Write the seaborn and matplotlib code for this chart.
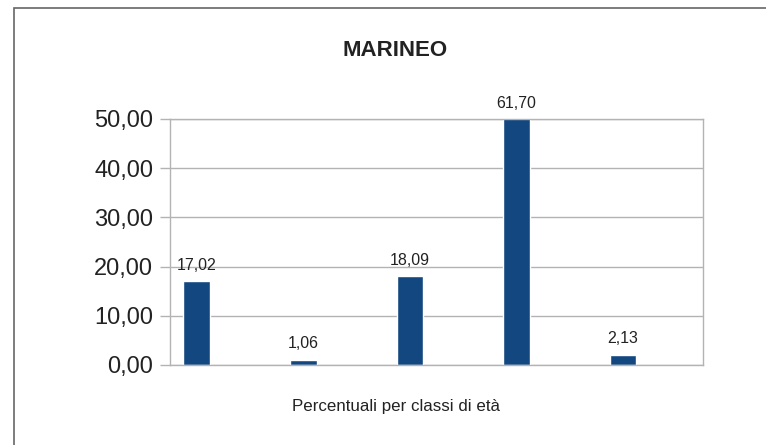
import matplotlib
matplotlib.use('agg')
import matplotlib.pyplot as plt
from matplotlib.patches import Rectangle
import seaborn as sns
import pandas as pd

# data
categorie = ['A', 'B', 'C', 'D', 'E']
percentuali = [17.02, 1.06, 18.09, 61.70, 2.13]
y_ticks = [0, 10, 20, 30, 40, 50]

sns.set_theme(style='white')
plt.rcParams['font.family'] = ['Liberation Sans', 'DejaVu Sans']

df = pd.DataFrame({'classe': categorie, 'perc': percentuali})

fig = plt.figure(figsize=(7.66, 4.45), dpi=100)
ax = fig.add_axes([170 / 766, 1 - 365 / 445, (703 - 170) / 766, (365 - 119) / 445])

sns.barplot(data=df, x='classe', y='perc', color='#13477f', width=0.25,
            saturation=1, ax=ax)
ax.set_xlim(-0.25, len(categorie) - 0.25)
ax.set_ylim(0, 50)
ax.set_yticks(y_ticks)
ax.set_yticklabels([f'{t:.2f}'.replace('.', ',') for t in y_ticks],
                   fontsize=17, color='#222222')
ax.tick_params(axis='y', length=7, width=1, color='#b3b3b3', pad=5, left=True)
ax.tick_params(axis='x', length=0, labelbottom=False)
ax.set_xlabel('')
ax.set_ylabel('')
ax.yaxis.grid(True, color='#b3b3b3', linewidth=1)
ax.set_axisbelow(True)
for s in ax.spines.values():
    s.set_color('#b3b3b3')
    s.set_linewidth(1)

for i, v in enumerate(percentuali):
    ax.annotate(f'{v:.2f}'.replace('.', ','), (i, min(v, 50)),
                xytext=(0, 6), textcoords='offset points', ha='center',
                va='bottom', fontsize=11.5, color='#222222', annotation_clip=False)

fig.text(395.5 / 766, 1 - 50 / 445, 'MARINEO', ha='center', va='center',
         fontsize=16, fontweight='bold', color='#222222')
fig.text(396.5 / 766, 1 - 407 / 445, 'Percentuali per classi di età',
         ha='center', va='center', fontsize=12.2, color='#222222')

fig.patches.append(Rectangle((14 / 766, -0.1), 1.1, 1.1 - 8 / 445,
                             transform=fig.transFigure, fill=False,
                             edgecolor='#666666', linewidth=1.2, clip_on=False))

fig.savefig('out.png', dpi=100)
